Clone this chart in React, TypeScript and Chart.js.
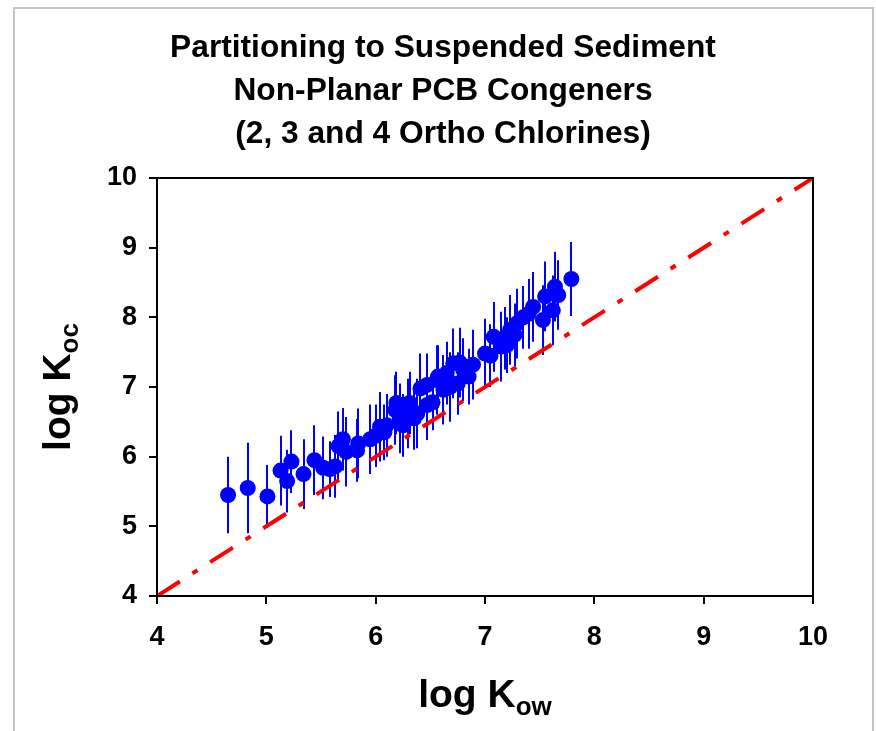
import React, { useEffect, useRef } from "react";
import { Chart, registerables } from "chart.js";

Chart.register(...registerables);

const FONT = "'Liberation Sans', Arial, Helvetica, sans-serif";

const titleLines = [
  "Partitioning to Suspended Sediment",
  "Non-Planar PCB Congeners",
  "(2, 3 and 4 Ortho Chlorines)",
];
const xTitleMain = "log K";
const xTitleSub = "ow";
const yTitleMain = "log K";
const yTitleSub = "oc";

const xRange = [4, 10];
const yRange = [4, 10];

// log Kow (x) for each congener
const logKow = [
  4.65, 4.83, 5.01, 5.13, 5.19, 5.23, 5.34, 5.44, 5.52, 5.58,
  5.63, 5.66, 5.70, 5.73, 5.83, 5.84, 5.95, 6.00, 6.04, 6.08,
  6.10, 6.18, 6.19, 6.22, 6.25, 6.30, 6.31, 6.35, 6.38, 6.41,
  6.47, 6.47, 6.52, 6.56, 6.57, 6.62, 6.65, 6.68, 6.71, 6.75,
  6.77, 6.80, 6.85, 6.89, 7.00, 7.05, 7.08, 7.15, 7.18, 7.20,
  7.23, 7.27, 7.29, 7.35, 7.40, 7.44, 7.53, 7.55, 7.62, 7.64,
  7.67, 7.79,
];
// log Koc (y)
const logKoc = [
  5.45, 5.55, 5.43, 5.80, 5.65, 5.93, 5.75, 5.95, 5.84, 5.82,
  5.86, 6.15, 6.25, 6.07, 6.09, 6.19, 6.25, 6.30, 6.43, 6.35,
  6.45, 6.67, 6.77, 6.55, 6.45, 6.62, 6.77, 6.55, 6.62, 6.98,
  6.74, 7.03, 6.78, 7.10, 7.15, 6.96, 7.20, 7.00, 7.34, 7.05,
  7.35, 7.25, 7.15, 7.32, 7.48, 7.45, 7.72, 7.58, 7.70, 7.60,
  7.82, 7.75, 7.91, 8.00, 8.05, 8.15, 7.96, 8.30, 8.10, 8.44,
  8.32, 8.55,
];
// error (+/-) on log Koc
const kocErr = [
  0.55, 0.65, 0.45, 0.50, 0.45, 0.45, 0.50, 0.50, 0.45, 0.40,
  0.45, 0.50, 0.45, 0.50, 0.45, 0.50, 0.50, 0.45, 0.50, 0.40,
  0.45, 0.50, 0.45, 0.50, 0.45, 0.50, 0.45, 0.45, 0.50, 0.50,
  0.50, 0.45, 0.40, 0.50, 0.45, 0.50, 0.45, 0.50, 0.50, 0.45,
  0.50, 0.45, 0.40, 0.50, 0.50, 0.45, 0.50, 0.50, 0.45, 0.40,
  0.50, 0.45, 0.50, 0.45, 0.50, 0.50, 0.50, 0.50, 0.50, 0.50,
  0.50, 0.53,
];
// 1:1 reference line
const oneToOneX = [4, 10];
const oneToOneY = [4, 10];

function drawSubText(
  ctx: CanvasRenderingContext2D,
  main: string,
  sub: string,
  mainSize: number,
  subSize: number,
  subDrop: number
) {
  ctx.font = `bold ${mainSize}px ${FONT}`;
  const wm = ctx.measureText(main).width;
  ctx.font = `bold ${subSize}px ${FONT}`;
  const ws = ctx.measureText(sub).width;
  const total = wm + ws;
  ctx.textAlign = "left";
  ctx.textBaseline = "alphabetic";
  ctx.font = `bold ${mainSize}px ${FONT}`;
  ctx.fillText(main, -total / 2, 0);
  ctx.font = `bold ${subSize}px ${FONT}`;
  ctx.fillText(sub, -total / 2 + wm, subDrop);
}

const decorPlugin = {
  id: "decor",
  beforeDatasetsDraw(chart: any) {
    const { ctx } = chart;
    const x = chart.scales.x;
    const y = chart.scales.y;
    ctx.save();
    ctx.strokeStyle = "#0000FF";
    ctx.lineWidth = 2;
    logKow.forEach((kx, i) => {
      const px = Math.round(x.getPixelForValue(kx));
      ctx.beginPath();
      ctx.moveTo(px, y.getPixelForValue(logKoc[i] - kocErr[i]));
      ctx.lineTo(px, y.getPixelForValue(logKoc[i] + kocErr[i]));
      ctx.stroke();
    });
    ctx.restore();
  },
  afterDraw(chart: any) {
    const { ctx, chartArea: ca } = chart;
    ctx.save();
    // plot frame
    ctx.strokeStyle = "#000";
    ctx.lineWidth = 2;
    ctx.strokeRect(ca.left, ca.top, ca.right - ca.left, ca.bottom - ca.top);
    // outer chart border
    ctx.strokeStyle = "#c4c4c4";
    ctx.lineWidth = 2;
    ctx.strokeRect(14, 8, 859, 800);
    // title
    ctx.fillStyle = "#000";
    ctx.textAlign = "center";
    ctx.textBaseline = "middle";
    ctx.font = `bold 31.7px ${FONT}`;
    titleLines.forEach((t, i) => ctx.fillText(t, 443, 48 + i * 43));
    // x axis title
    const cx = (ca.left + ca.right) / 2;
    ctx.save();
    ctx.translate(cx, 707);
    drawSubText(ctx, xTitleMain, xTitleSub, 39, 26, 8);
    ctx.restore();
    // y axis title
    const cy = (ca.top + ca.bottom) / 2;
    ctx.save();
    ctx.translate(70, cy);
    ctx.rotate(-Math.PI / 2);
    drawSubText(ctx, yTitleMain, yTitleSub, 39, 26, 8);
    ctx.restore();
    ctx.restore();
  },
};

export default function App() {
  const ref = useRef<HTMLCanvasElement | null>(null);

  useEffect(() => {
    if (!ref.current) return;
    const tickFont = { family: FONT, size: 27, weight: "bold" as const };
    const chart = new Chart(ref.current, {
      type: "scatter",
      data: {
        datasets: [
          {
            type: "line",
            label: "1:1",
            data: oneToOneX.map((v, i) => ({ x: v, y: oneToOneY[i] })),
            borderColor: "#FF0000",
            borderWidth: 4,
            borderDash: [27, 15, 6, 15],
            pointRadius: 0,
            fill: false,
            order: 0,
          } as any,
          {
            type: "scatter",
            label: "Koc",
            data: logKow.map((v, i) => ({ x: v, y: logKoc[i] })),
            backgroundColor: "#0000FF",
            borderColor: "#0000FF",
            borderWidth: 0,
            pointRadius: 8,
            pointHoverRadius: 8,
            order: 1,
          },
        ],
      },
      options: {
        responsive: false,
        animation: false,
        devicePixelRatio: 1,
        layout: { padding: { top: 178, right: 63, left: 0, bottom: 0 } },
        plugins: {
          legend: { display: false },
          tooltip: { enabled: false },
          title: { display: false },
        },
        scales: {
          x: {
            type: "linear",
            position: "bottom",
            min: xRange[0],
            max: xRange[1],
            afterFit: (s: any) => {
              s.height = 135;
            },
            ticks: { stepSize: 1, color: "#000", font: tickFont, padding: 17 },
            grid: {
              drawOnChartArea: false,
              drawTicks: true,
              tickLength: 8,
              color: "#000",
              lineWidth: 2,
            },
            border: { display: true, color: "#000", width: 2 },
          },
          y: {
            type: "linear",
            min: yRange[0],
            max: yRange[1],
            afterFit: (s: any) => {
              s.width = 157;
            },
            ticks: { stepSize: 1, color: "#000", font: tickFont, padding: 12 },
            grid: {
              drawOnChartArea: false,
              drawTicks: true,
              tickLength: 8,
              color: "#000",
              lineWidth: 2,
            },
            border: { display: true, color: "#000", width: 2 },
          },
        },
      },
      plugins: [decorPlugin],
    });
    return () => chart.destroy();
  }, []);

  return (
    <div style={{ position: "absolute", left: 0, top: 0, width: 876, height: 731, background: "#fff" }}>
      <canvas ref={ref} width={876} height={731} style={{ width: 876, height: 731, display: "block" }} />
    </div>
  );
}
